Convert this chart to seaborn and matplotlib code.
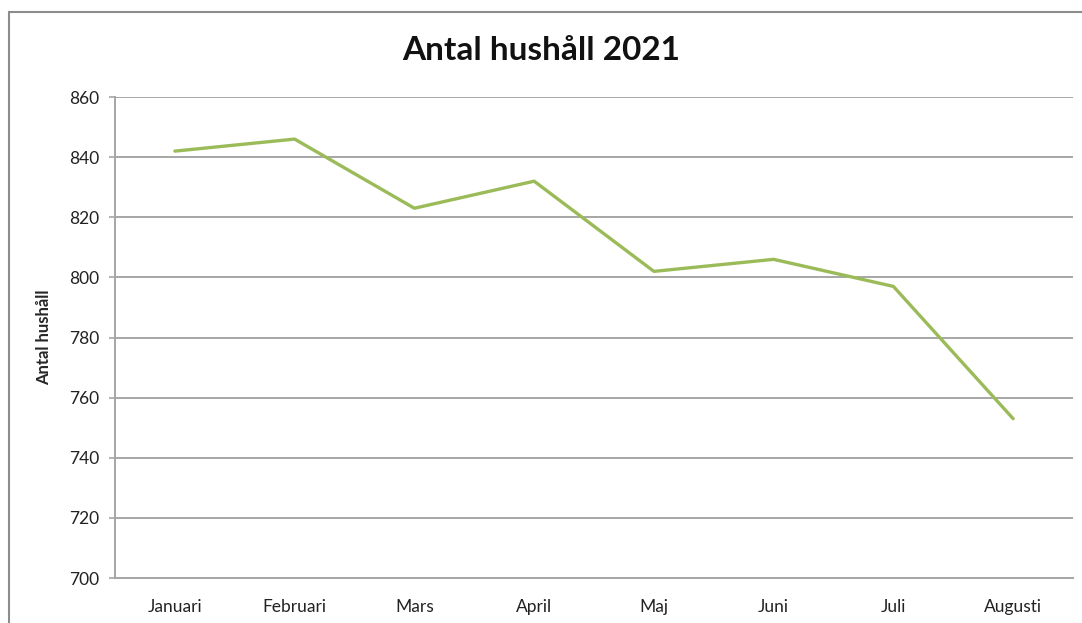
import matplotlib
matplotlib.use("Agg")
import matplotlib.pyplot as plt
from matplotlib.patches import Rectangle
import seaborn as sns
import pandas as pd

months = ["Januari", "Februari", "Mars", "April", "Maj", "Juni", "Juli", "Augusti"]
households = [842, 846, 823, 832, 802, 806, 797, 753]
y_ticks = [700, 720, 740, 760, 780, 800, 820, 840, 860]

sns.set_theme(style="white")
plt.rcParams["font.family"] = ["Lato", "DejaVu Sans"]

df = pd.DataFrame({"Månad": months, "Antal hushåll": households})

fig = plt.figure(figsize=(10.82, 6.23), dpi=100)
ax = fig.add_axes([0.1063, 0.0722, 0.8854, 0.7721])

# chart frame around the whole figure
fig.patches.append(Rectangle((9 / 1082, -0.1), 1.2, 1 - 12 / 623 + 0.1,
                             transform=fig.transFigure, fill=False,
                             edgecolor="#8c8c8c", linewidth=1.5))

sns.lineplot(data=df, x="Månad", y="Antal hushåll", ax=ax, sort=False,
             color="#9bbb59", linewidth=2.4, zorder=3)

ax.set_xlim(-0.5, len(months) - 0.5)
ax.set_ylim(700, 860)
ax.set_yticks(y_ticks)
ax.yaxis.grid(True, color="#a6a6a6", linewidth=1.4)
ax.xaxis.grid(False)

for side in ("top", "right"):
    ax.spines[side].set_visible(False)
for side in ("left", "bottom"):
    ax.spines[side].set_color("#a6a6a6")
    ax.spines[side].set_linewidth(1.4)

ax.tick_params(axis="y", which="both", left=True, length=4, width=1.2,
               color="#a6a6a6", labelsize=12.5, labelcolor="#222222", pad=7)
ax.tick_params(axis="x", bottom=False, labelsize=12.5, labelcolor="#222222", pad=9)

ax.set_xlabel("")
ax.set_ylabel("Antal hushåll", fontsize=12, fontweight="bold")
ax.yaxis.set_label_coords(-0.066, 0.5)

fig.text(0.5, 1 - 50 / 623, "Antal hushåll 2021", ha="center", va="center",
         fontsize=24, fontweight="bold", color="#111111")

fig.savefig("out.png", dpi=100)
